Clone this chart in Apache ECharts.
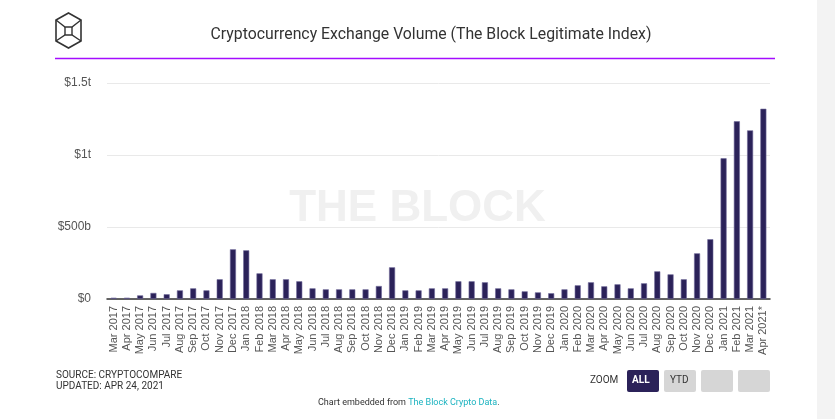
<!DOCTYPE html>
<html>
<head>
<meta charset="utf-8">
<script src="https://cdn.jsdelivr.net/npm/echarts@6/dist/echarts.min.js"></script>
<style>
html,body{margin:0;padding:0;background:#fff;}
#chart{width:835px;height:419px;}
</style>
</head>
<body>
<div id="chart"></div>
<script>
const categories = ["Mar 2017","Apr 2017","May 2017","Jun 2017","Jul 2017","Aug 2017","Sep 2017","Oct 2017","Nov 2017","Dec 2017",
"Jan 2018","Feb 2018","Mar 2018","Apr 2018","May 2018","Jun 2018","Jul 2018","Aug 2018","Sep 2018","Oct 2018","Nov 2018","Dec 2018",
"Jan 2019","Feb 2019","Mar 2019","Apr 2019","May 2019","Jun 2019","Jul 2019","Aug 2019","Sep 2019","Oct 2019","Nov 2019","Dec 2019",
"Jan 2020","Feb 2020","Mar 2020","Apr 2020","May 2020","Jun 2020","Jul 2020","Aug 2020","Sep 2020","Oct 2020","Nov 2020","Dec 2020",
"Jan 2021","Feb 2021","Mar 2021","Apr 2021*"];
// volume in billions USD
const volume = [9,9,25,42,33,60,74,60,137,345,
338,178,137,137,123,74,67,67,67,67,90,220,
60,60,74,74,123,123,116,74,67,53,46,40,
67,95,116,88,102,74,109,192,171,137,317,415,
977,1234,1171,1321];
const yTicks = [0,500,1000,1500];
const yTickLabels = ["$0","$500b","$1t","$1.5t"];

const chart = echarts.init(document.getElementById('chart'), null, {renderer:'canvas'});
const option = {
  animation:false,
  backgroundColor:'#fff',
  title:{
    text:'Cryptocurrency Exchange Volume (The Block Legitimate Index)',
    left:426, top:22, textAlign:'center',
    textStyle:{fontFamily:'Roboto', fontSize:15.8, fontWeight:'normal', color:'#333'}
  },
  grid:{left:107, right:65, top:83, bottom:120, containLabel:false},
  xAxis:{
    type:'category',
    data:categories,
    axisLine:{lineStyle:{color:'#333', width:1.5}},
    axisTick:{show:false},
    axisLabel:{rotate:90, interval:0, margin:7, fontFamily:'Liberation Sans', fontSize:11, color:'#555'}
  },
  yAxis:{
    type:'value', min:0, max:1500, interval:500,
    axisLine:{show:false}, axisTick:{show:false},
    splitLine:{lineStyle:{color:'#e9e9e9'}},
    axisLabel:{margin:16, fontFamily:'Liberation Sans', fontSize:12, color:'#555',
      formatter:v=>yTickLabels[yTicks.indexOf(v)]}
  },
  series:[{
    type:'bar',
    data:volume,
    barWidth:6,
    itemStyle:{color:'#2b2259', borderColor:'#6f6898', borderWidth:0.6}
  }],
  graphic:[
    {type:'text', left:'center', top:187, z:-1, silent:true,
      style:{text:'THE BLOCK', font:'bold 44px "Liberation Sans"', fill:'#f0f0f0'}},
    {type:'line', shape:{x1:55,y1:58.5,x2:775,y2:58.5}, style:{stroke:'#a40dff', lineWidth:1.5}},
    {type:'rect', shape:{x:817,y:0,width:18,height:419}, style:{fill:'#f3f3f3'}},
    // logo
    {type:'polygon', shape:{points:[[68.5,13],[81,20],[81,41],[68.5,48],[56,41],[56,20]]}, style:{fill:'none', stroke:'#333', lineWidth:1.6}},
    {type:'polyline', shape:{points:[[56,20],[65,27],[72,27],[81,20]]}, style:{fill:'none', stroke:'#333', lineWidth:1.4}},
    {type:'polyline', shape:{points:[[56,41],[65,35],[72,35],[81,41]]}, style:{fill:'none', stroke:'#333', lineWidth:1.4}},
    {type:'line', shape:{x1:65,y1:27,x2:65,y2:35}, style:{stroke:'#333', lineWidth:1.4}},
    {type:'line', shape:{x1:72,y1:27,x2:72,y2:35}, style:{stroke:'#333', lineWidth:1.4}},
    // footer
    {type:'text', left:56, top:370, style:{text:'SOURCE: CRYPTOCOMPARE', font:'10px Roboto', fill:'#333'}},
    {type:'text', left:56, top:381, style:{text:'UPDATED: APR 24, 2021', font:'10px Roboto', fill:'#333'}},
    {type:'text', left:590, top:375, style:{text:'ZOOM', font:'10px Roboto', fill:'#333'}},
    {type:'rect', shape:{x:627,y:370,width:32,height:22,r:2}, style:{fill:'#2b2259'}},
    {type:'text', left:632, top:375, style:{text:'ALL', font:'bold 10px Roboto', fill:'#fff'}},
    {type:'rect', shape:{x:664,y:370,width:32,height:22,r:2}, style:{fill:'#d6d6d6'}},
    {type:'text', left:670, top:375, style:{text:'YTD', font:'10px Roboto', fill:'#333'}},
    {type:'rect', shape:{x:701,y:370,width:32,height:22,r:2}, style:{fill:'#d6d6d6'}},
    {type:'rect', shape:{x:738,y:370,width:32,height:22,r:2}, style:{fill:'#d6d6d6'}},
    {type:'text', left:318, top:398, style:{rich:{a:{font:'9px Roboto', fill:'#333'}, b:{font:'9px Roboto', fill:'#1bb3c0'}}, text:'{a|Chart embedded from }{b|The Block Crypto Data}{a|.}'}}
  ]
};
chart.setOption(option);
</script>
</body>
</html>
